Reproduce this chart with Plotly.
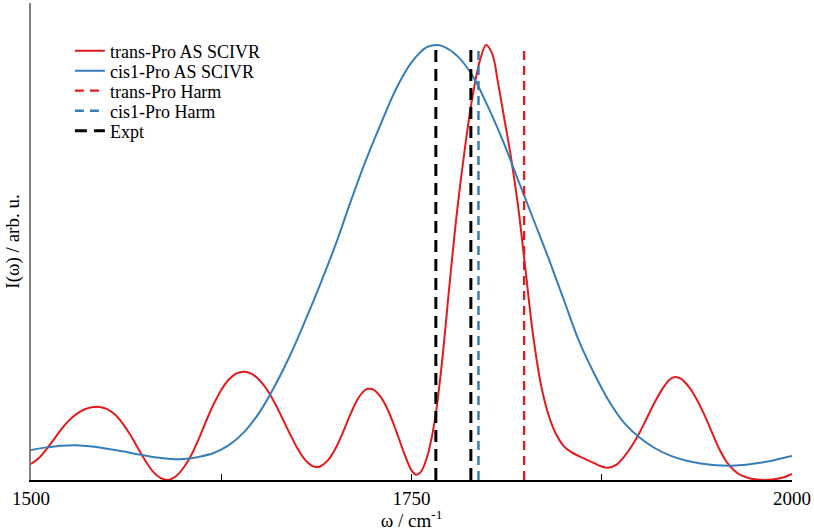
import plotly.graph_objects as go

# ---- data ----
trans_x = [1500, 1505, 1510, 1515, 1520, 1525, 1530, 1535, 1540, 1545, 1550, 1555, 1560, 1565, 1570,
           1575, 1580, 1585, 1590, 1595, 1600, 1605, 1610, 1615, 1620, 1625, 1630, 1635, 1640, 1645,
           1650, 1655, 1660, 1665, 1670, 1675, 1680, 1685, 1688, 1690, 1695, 1700, 1705, 1710, 1715,
           1720, 1722, 1725, 1730, 1735, 1740, 1745, 1750, 1753, 1756, 1760, 1765, 1770, 1775, 1780,
           1785, 1790, 1795, 1799, 1803, 1807, 1811, 1815, 1820, 1825, 1830, 1835, 1840, 1845, 1850,
           1855, 1860, 1865, 1870, 1875, 1879, 1885, 1890, 1895, 1900, 1905, 1910, 1915, 1920, 1923,
           1927, 1932, 1937, 1942, 1947, 1952, 1957, 1962, 1967, 1972, 1977, 1982, 1987, 1992, 1996,
           2000]
trans_y = [0.037, 0.05, 0.07, 0.093, 0.117, 0.137, 0.152, 0.162, 0.167, 0.168, 0.163, 0.151, 0.131, 0.105, 0.075,
           0.045, 0.02, 0.005, 0.0, 0.008, 0.027, 0.055, 0.093, 0.135, 0.174, 0.207, 0.231, 0.245, 0.249, 0.244,
           0.23, 0.208, 0.178, 0.143, 0.107, 0.073, 0.047, 0.032, 0.03, 0.031, 0.045, 0.072, 0.11, 0.152, 0.188,
           0.208, 0.21, 0.208, 0.19, 0.157, 0.112, 0.063, 0.022, 0.012, 0.018, 0.05, 0.13, 0.27, 0.45, 0.62,
           0.76, 0.88, 0.965, 1.0, 0.98, 0.91, 0.83, 0.75, 0.63, 0.48, 0.33, 0.22, 0.15, 0.105, 0.078,
           0.064, 0.055, 0.047, 0.039, 0.031, 0.028, 0.036, 0.055, 0.08, 0.11, 0.145, 0.18, 0.21, 0.232, 0.237,
           0.233, 0.215, 0.188, 0.153, 0.113, 0.073, 0.042, 0.022, 0.01, 0.004, 0.001, 0.0, 0.001, 0.004, 0.008,
           0.014]

cis_x = [1500, 1510, 1520, 1530, 1540, 1550, 1560, 1570, 1580, 1590, 1600, 1610, 1620, 1630, 1640,
         1650, 1660, 1670, 1680, 1690, 1700, 1710, 1720, 1730, 1740, 1750, 1760, 1766, 1770, 1780,
         1790, 1800, 1810, 1820, 1830, 1840, 1850, 1860, 1870, 1880, 1890, 1900, 1910, 1920, 1930,
         1940, 1950, 1960, 1970, 1980, 1990, 2000]
cis_y = [0.069, 0.075, 0.079, 0.080, 0.077, 0.072, 0.066, 0.059, 0.053, 0.049, 0.048, 0.053, 0.062, 0.08, 0.11,
         0.155, 0.215, 0.285, 0.365, 0.45, 0.54, 0.64, 0.735, 0.82, 0.9, 0.96, 0.995, 1.0, 0.998, 0.975,
         0.93, 0.86, 0.78, 0.69, 0.6, 0.51, 0.415, 0.32, 0.245, 0.18, 0.13, 0.097, 0.073, 0.056, 0.045,
         0.038, 0.034, 0.033, 0.035, 0.04, 0.047, 0.055]

trans_harm = 1824
cis_harm = 1794
expt = [1766, 1789]

x_ticks = [1500, 1750, 2000]
x_ticklabels = ["1500", "1750", "2000"]
x_minor_ticks = [1625, 1875]

RED = "#e41a1c"
BLUE = "#377eb8"
FONT = "Liberation Serif"

fig = go.Figure()

fig.add_trace(go.Scatter(x=trans_x, y=trans_y, mode="lines", name="trans-Pro AS SCIVR",
                         line=dict(color=RED, width=2, shape="spline", smoothing=1.0),
                         legend="legend", showlegend=True))
fig.add_trace(go.Scatter(x=cis_x, y=cis_y, mode="lines", name="cis1-Pro AS SCIVR",
                         line=dict(color=BLUE, width=2, shape="spline", smoothing=1.0),
                         legend="legend2", showlegend=True))
fig.add_trace(go.Scatter(x=[trans_harm, trans_harm], y=[0, 1], mode="lines", name="trans-Pro Harm",
                         line=dict(color=RED, width=2.3, dash="9px,6px"), legend="legend3", showlegend=True))
fig.add_trace(go.Scatter(x=[cis_harm, cis_harm], y=[0, 1], mode="lines", name="cis1-Pro Harm",
                         line=dict(color=BLUE, width=2.5, dash="9px,6px"), legend="legend4", showlegend=True))
for i, e in enumerate(expt):
    fig.add_trace(go.Scatter(x=[e, e], y=[0, 1], mode="lines", name="Expt",
                             line=dict(color="black", width=3, dash="12px,7px"),
                             legend="legend5", showlegend=(i == 0)))

H, W = 531, 814
mt, mb, ml, mr = 3, 51, 31, 20
ph = H - mt - mb

def ypaper(px):
    return (H - mb - px) / ph

leg_x = (70 - ml) / (W - ml - mr)
rows = [51, 71, 91, 111, 131]
leg_common = dict(x=leg_x, xanchor="left", yanchor="middle", bgcolor="rgba(0,0,0,0)",
                  font=dict(family=FONT, size=18, color="black"), borderwidth=0)

fig.update_layout(
    width=W, height=H,
    showlegend=True,
    margin=dict(l=ml, r=mr, t=mt, b=mb),
    plot_bgcolor="white", paper_bgcolor="white",
    font=dict(family=FONT, size=19, color="black"),
    legend=dict(y=ypaper(rows[0]), **leg_common),
    legend2=dict(y=ypaper(rows[1]), **leg_common),
    legend3=dict(y=ypaper(rows[2]), **leg_common),
    legend4=dict(y=ypaper(rows[3]), **leg_common),
    legend5=dict(y=ypaper(rows[4]), **leg_common),
    xaxis=dict(range=[1500, 2000], tickvals=x_ticks, ticktext=x_ticklabels,
               ticks="inside", ticklen=6, tickcolor="black", tickwidth=1,
               minor=dict(tickvals=x_minor_ticks, ticks="inside", ticklen=6,
                          tickcolor="black", tickwidth=1, showgrid=False),
               showline=True, linecolor="black", linewidth=1.5, showgrid=False, zeroline=False,
               tickfont=dict(family=FONT, size=19, color="black"),
               title=dict(text="ω / cm<sup>-1</sup>", font=dict(family=FONT, size=19), standoff=4)),
    yaxis=dict(range=[0, 1.0966], showticklabels=False, ticks="", showline=True,
               linecolor="#808080", linewidth=2, showgrid=False, zeroline=False,
               title=dict(text="I(ω) / arb. u.", font=dict(family=FONT, size=19), standoff=4)),
)

fig.write_html("out.html")
